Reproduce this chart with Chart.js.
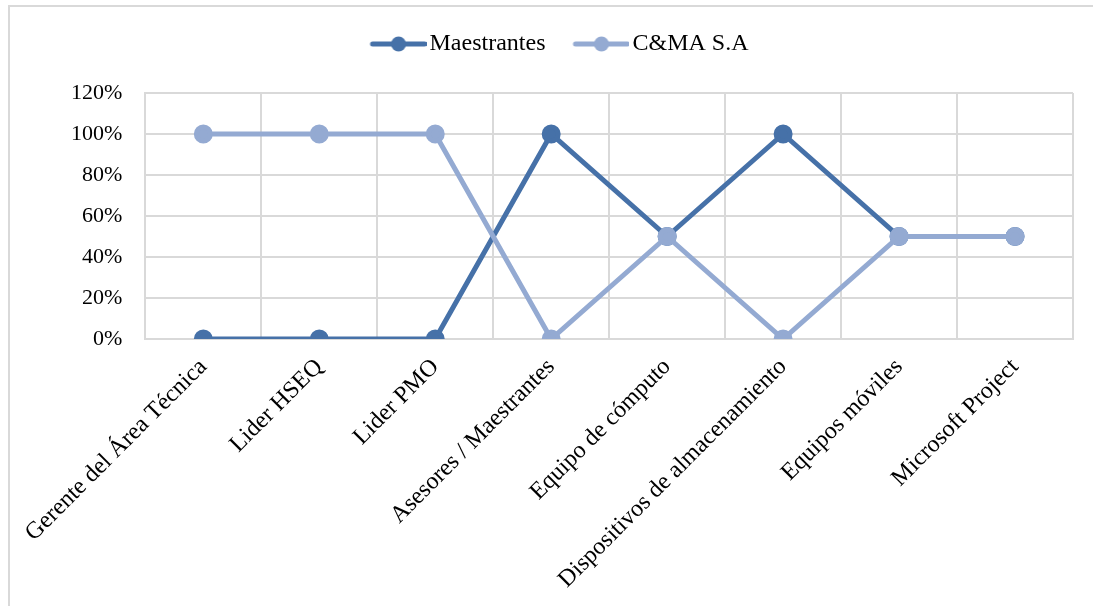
<!DOCTYPE html>
<html>
<head>
<meta charset="utf-8">
<script src="https://cdn.jsdelivr.net/npm/chart.js@4"></script>
<style>
  body { margin: 0; background: #fff; overflow: hidden; }
  #frame {
    position: absolute; left: 8px; top: 5px; width: 1100px; height: 620px;
    border-left: 2px solid #d9d9d9; border-top: 2px solid #d9d9d9;
  }
  #chart { position: absolute; left: 7px; top: 3px; }
</style>
</head>
<body>
<div id="frame"></div>
<canvas id="chart" width="1086" height="603"></canvas>
<script>
const categories = ['Gerente del Área Técnica', 'Lider HSEQ', 'Lider PMO', 'Asesores / Maestrantes',
  'Equipo de cómputo', 'Dispositivos de almacenamiento', 'Equipos móviles', 'Microsoft Project'];
const maestrantes = [0, 0, 0, 100, 50, 100, 50, 50];
const cmaSA = [100, 100, 100, 0, 50, 0, 50, 50];

const darkBlue = '#4671a8';
const lightBlue = '#94aad2';
const serif = '"Liberation Serif", "Times New Roman", serif';
const tickFont = { family: serif, size: 22 };
const labelFont = { family: serif, size: 24 };

// line-with-dot swatch; drawn in the right part of the image so the
// line runs close to the legend text
function swatch(color) {
  const c = document.createElement('canvas');
  c.width = 64; c.height = 16;
  const g = c.getContext('2d');
  g.strokeStyle = color; g.lineWidth = 5; g.lineCap = 'round';
  g.beginPath(); g.moveTo(10, 8); g.lineTo(62, 8); g.stroke();
  g.fillStyle = color;
  g.beginPath(); g.arc(36, 8, 7.5, 0, Math.PI * 2); g.fill();
  return c;
}

// extra blank space under the legend, and nudge it a bit to the right
const legendTweak = {
  id: 'legendTweak',
  beforeLayout(chart) {
    const lg = chart.legend;
    if (lg && !lg._tweaked) {
      const fit = lg.fit;
      const draw = lg.draw;
      lg.fit = function () { fit.call(this); this.height += 27; };
      lg.draw = function () {
        const ctx = this.ctx;
        ctx.save();
        ctx.translate(20, 0);
        draw.call(this);
        ctx.restore();
      };
      lg._tweaked = true;
    }
  }
};

Chart.defaults.font = tickFont;
Chart.defaults.color = '#000';

new Chart(document.getElementById('chart'), {
  type: 'line',
  data: {
    labels: categories,
    datasets: [{
      label: 'Maestrantes',
      data: maestrantes,
      borderColor: darkBlue,
      backgroundColor: darkBlue,
      borderWidth: 5,
      pointRadius: 7,
      order: 2
    }, {
      label: 'C&MA S.A',
      data: cmaSA,
      borderColor: lightBlue,
      backgroundColor: lightBlue,
      borderWidth: 5,
      pointRadius: 7,
      order: 1
    }]
  },
  plugins: [legendTweak],
  options: {
    responsive: false,
    animation: false,
    layout: { padding: { left: 0, right: 20, top: 0, bottom: 0 } },
    plugins: {
      tooltip: { enabled: false },
      legend: {
        labels: {
          usePointStyle: true,
          pointStyleWidth: 46,
          boxHeight: 16,
          padding: 29,
          font: labelFont,
          generateLabels(chart) {
            return chart.data.datasets.map((ds, i) => ({
              text: ds.label,
              pointStyle: swatch(ds.borderColor),
              fillStyle: ds.borderColor,
              strokeStyle: ds.borderColor,
              lineWidth: 0,
              datasetIndex: i
            }));
          }
        }
      }
    },
    scales: {
      x: {
        offset: true,
        grid: { offset: true, color: '#d9d9d9', lineWidth: 2, drawTicks: false },
        border: { color: '#d9d9d9', width: 2 },
        ticks: { minRotation: 45, maxRotation: 45, padding: 14, font: labelFont },
        afterFit(scale) { scale.height = 267; }
      },
      y: {
        min: 0,
        max: 120,
        grid: { color: '#d9d9d9', lineWidth: 2, drawTicks: false },
        border: { color: '#d9d9d9', width: 2 },
        ticks: { stepSize: 20, padding: 23, font: tickFont, callback: v => v + '%' },
        afterFit(scale) { scale.width = 136; }
      }
    }
  }
});
</script>
</body>
</html>
